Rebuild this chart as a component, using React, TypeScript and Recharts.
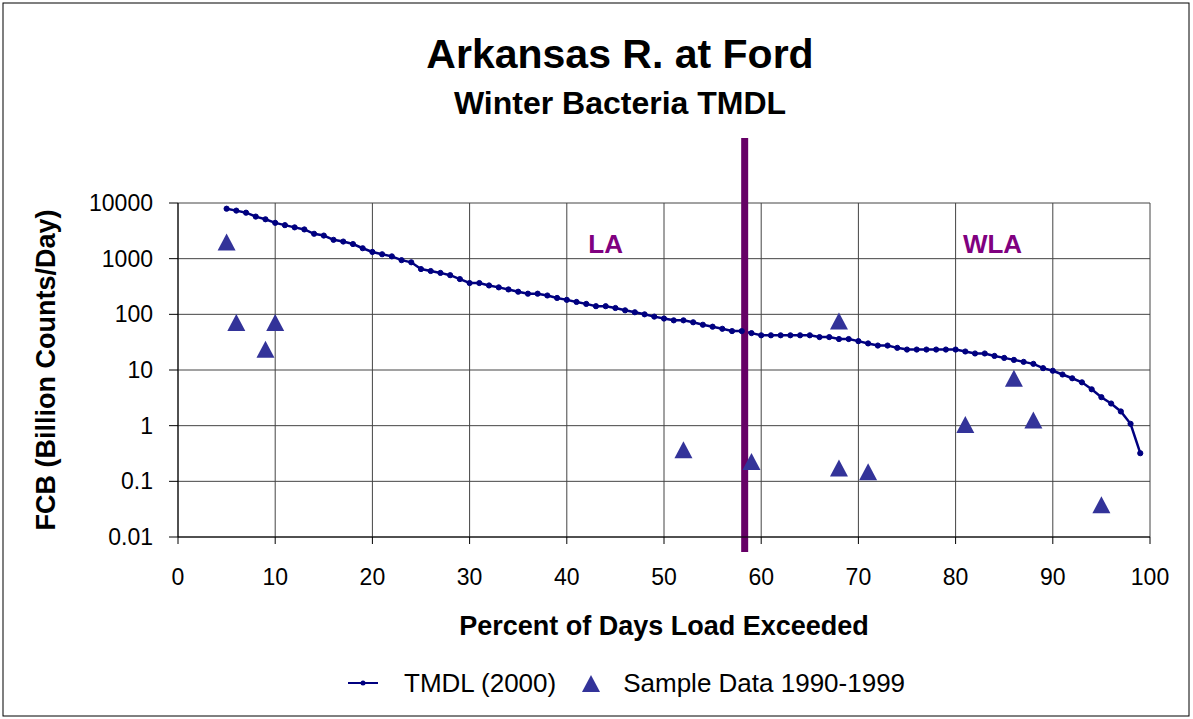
import React from 'react';
import {
  ComposedChart,
  Line,
  Scatter,
  XAxis,
  YAxis,
  CartesianGrid,
  ReferenceLine,
  ReferenceDot,
  Legend,
  Customized,
} from 'recharts';

const tmdlPercent = [
  5, 6, 7, 8, 9, 10, 11, 12, 13, 14, 15, 16, 17, 18, 19, 20, 21, 22, 23, 24,
  25, 26, 27, 28, 29, 30, 31, 32, 33, 34, 35, 36, 37, 38, 39, 40, 41, 42, 43, 44,
  45, 46, 47, 48, 49, 50, 51, 52, 53, 54, 55, 56, 57, 58, 59, 60, 61, 62, 63, 64,
  65, 66, 67, 68, 69, 70, 71, 72, 73, 74, 75, 76, 77, 78, 79, 80, 81, 82, 83, 84,
  85, 86, 87, 88, 89, 90, 91, 92, 93, 94, 95, 96, 97, 98, 99,
];
const tmdlLoad = [
  7900, 7300, 6700, 5700, 5100, 4400, 4000, 3650, 3350, 2800, 2600, 2180, 2030, 1830, 1540, 1320, 1200, 1100, 940, 860,
  650, 600, 555, 505, 430, 365, 365, 330, 305, 280, 255, 235, 235, 218, 197, 182, 167, 154, 140, 140,
  130, 118, 109, 100, 91, 84, 78, 78, 72, 65, 60, 55, 50, 50, 46, 42, 42, 42, 42, 42,
  42, 39, 39, 36, 36, 33, 30, 27.5, 27.5, 25, 23.3, 23.3, 23.3, 23.3, 23.3, 23.3, 21.5, 19.8, 19.8, 17.9,
  16.5, 15.2, 14, 12.9, 10.8, 9.7, 8.3, 7.1, 6.0, 4.5, 3.25, 2.5, 1.8, 1.08, 0.32,
];

const samplePercent = [5, 6, 9, 10, 52, 59, 68, 68, 71, 81, 86, 88, 95];
const sampleLoad = [2000, 71, 23.5, 71, 0.37, 0.226, 76, 0.174, 0.148, 1.05, 7.1, 1.26, 0.038];

const xTicks = [0, 10, 20, 30, 40, 50, 60, 70, 80, 90, 100];
const yTicks = [0.01, 0.1, 1, 10, 100, 1000, 10000];

const boundaryPercent = 58.3;
const boundaryTop = 147000;
const boundaryBottom = 0.0054;

const laLabel = { x: 44, y: 1815, text: 'LA' };
const wlaLabel = { x: 83.8, y: 1815, text: 'WLA' };

const tmdlData = tmdlPercent.map((x, i) => ({ x, y: tmdlLoad[i] }));
const sampleData = samplePercent.map((x, i) => ({ x, y: sampleLoad[i] }));

const FONT = '"Liberation Sans", Arial, Helvetica, sans-serif';
const NAVY = '#000080';
const TRI = '#333399';
const PURPLE = '#660066';

const Triangle = (props: any) => {
  const { cx, cy } = props;
  if (cx == null || cy == null) return null;
  const w = 18;
  const h = 17;
  return (
    <path
      d={`M${cx},${cy - h / 2}L${cx + w / 2},${cy + h / 2}L${cx - w / 2},${cy + h / 2}Z`}
      fill={TRI}
    />
  );
};

const Titles = () => (
  <g fontFamily={FONT} fill="#000">
    <rect x={3} y={3} width={1186} height={713} fill="none" stroke="#000" strokeWidth={1} />
    <text x={620} y={68} textAnchor="middle" fontSize={41} fontWeight="bold">
      Arkansas R. at Ford
    </text>
    <text x={620} y={114} textAnchor="middle" fontSize={32} fontWeight="bold">
      Winter Bacteria TMDL
    </text>
    <text
      x={55}
      y={370}
      transform="rotate(-90 55 370)"
      textAnchor="middle"
      fontSize={27}
      fontWeight="bold"
    >
      FCB (Billion Counts/Day)
    </text>
    <text x={664} y={635} textAnchor="middle" fontSize={27} fontWeight="bold">
      Percent of Days Load Exceeded
    </text>
  </g>
);

const LegendContent = () => (
  <div
    style={{
      display: 'flex',
      alignItems: 'center',
      paddingLeft: 348,
      fontFamily: FONT,
      fontSize: 26,
      color: '#000',
      lineHeight: '30px',
    }}
  >
    <svg width={30} height={12} style={{ display: 'block' }}>
      <line x1={0} y1={6} x2={30} y2={6} stroke={NAVY} strokeWidth={2} />
      <circle cx={15} cy={6} r={2.5} fill={NAVY} />
    </svg>
    <span style={{ marginLeft: 26 }}>TMDL (2000)</span>
    <svg width={18} height={17} style={{ display: 'block', marginLeft: 26 }}>
      <path d="M9,0L18,17L0,17Z" fill={TRI} />
    </svg>
    <span style={{ marginLeft: 23 }}>Sample Data 1990-1999</span>
  </div>
);

export default function App() {
  return (
    <div style={{ position: 'absolute', left: 0, top: 0, width: 1193, height: 719, background: '#fff' }}>
      <ComposedChart
        width={1193}
        height={719}
        margin={{ top: 203, right: 43, bottom: 122, left: 0 }}
      >
        <Customized component={Titles} />
        <CartesianGrid stroke="#444" strokeWidth={1} horizontal vertical />
        <XAxis
          dataKey="x"
          type="number"
          domain={[0, 100]}
          ticks={xTicks}
          interval={0}
          height={60}
          axisLine={{ stroke: '#000', strokeWidth: 1 }}
          tickLine={{ stroke: '#000' }}
          tickSize={7}
          tickMargin={25}
          tick={{ fontSize: 23, fill: '#000', fontFamily: FONT }}
          allowDataOverflow
        />
        <YAxis
          type="number"
          scale="log"
          domain={[0.01, 10000]}
          ticks={yTicks}
          interval={0}
          width={178}
          axisLine={{ stroke: '#000', strokeWidth: 1 }}
          tickLine={{ stroke: '#000' }}
          tickSize={9}
          tickMargin={16}
          tick={{ fontSize: 23, fill: '#000', fontFamily: FONT }}
          allowDataOverflow
        />
        <Line
          data={tmdlData}
          dataKey="y"
          type="linear"
          stroke={NAVY}
          strokeWidth={2.5}
          dot={{ r: 2.6, fill: NAVY, stroke: NAVY, strokeWidth: 1 }}
          isAnimationActive={false}
          name="TMDL (2000)"
        />
        <Scatter
          data={sampleData}
          dataKey="y"
          shape={Triangle}
          fill={TRI}
          isAnimationActive={false}
          name="Sample Data 1990-1999"
        />
        <ReferenceLine
          segment={[
            { x: boundaryPercent, y: boundaryTop },
            { x: boundaryPercent, y: boundaryBottom },
          ]}
          stroke={PURPLE}
          strokeWidth={7}
          ifOverflow="visible"
        />
        <ReferenceDot
          x={laLabel.x}
          y={laLabel.y}
          r={0}
          fill="none"
          stroke="none"
          ifOverflow="visible"
          label={{ value: laLabel.text, position: 'center', fill: '#800080', fontSize: 26, fontWeight: 'bold', fontFamily: FONT }}
        />
        <ReferenceDot
          x={wlaLabel.x}
          y={wlaLabel.y}
          r={0}
          fill="none"
          stroke="none"
          ifOverflow="visible"
          label={{ value: wlaLabel.text, position: 'center', fill: '#800080', fontSize: 26, fontWeight: 'bold', fontFamily: FONT }}
        />
        <Legend
          layout="horizontal"
          verticalAlign="middle"
          align="center"
          content={LegendContent}
          wrapperStyle={{ left: 0, top: 668, width: 1193, height: 30 }}
        />
      </ComposedChart>
    </div>
  );
}
